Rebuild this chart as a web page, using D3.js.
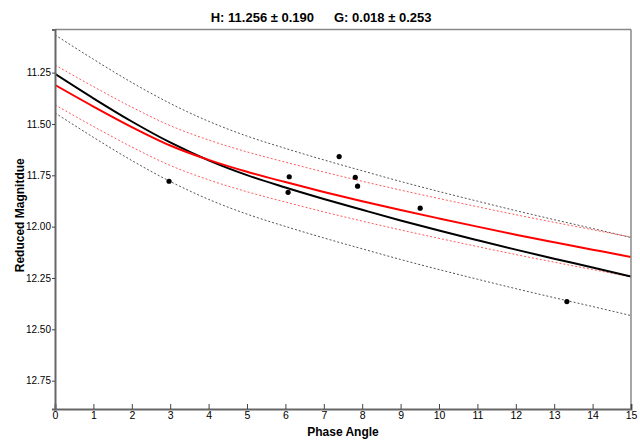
<!DOCTYPE html>
<html>
<head>
<meta charset="utf-8">
<script src="https://cdn.jsdelivr.net/npm/d3@7"></script>
<style>
html,body{margin:0;padding:0;background:#fff;}
svg{display:block;font-family:"Liberation Sans",Arial,sans-serif;}
</style>
</head>
<body>
<svg id="chart" width="640" height="442"></svg>
<script>
// ---- data ----
const titleH = "H: 11.256 \u00b1 0.190";
const titleG = "G: 0.018 \u00b1 0.253";
const xLabel = "Phase Angle";
const yLabel = "Reduced Magnitdue";

const phaseAngles = [0,1,2,3,4,5,6,7,8,9,10,11,12,13,14,15];
const fitBlack      = [11.256,11.375,11.488,11.590,11.677,11.749,11.809,11.865,11.918,11.970,12.019,12.066,12.112,12.156,12.199,12.243];
const fitBlackUpper = [11.066,11.185,11.298,11.400,11.487,11.559,11.619,11.675,11.728,11.780,11.829,11.876,11.922,11.966,12.009,12.053];
const fitBlackLower = [11.446,11.565,11.678,11.780,11.867,11.939,11.999,12.055,12.108,12.160,12.209,12.256,12.302,12.346,12.389,12.433];
const fitRed        = [11.310,11.415,11.515,11.605,11.675,11.733,11.783,11.831,11.876,11.919,11.960,12.000,12.039,12.076,12.112,12.148];
const fitRedUpper   = [11.213,11.318,11.418,11.508,11.578,11.636,11.686,11.734,11.779,11.822,11.863,11.903,11.942,11.979,12.015,12.051];
const fitRedLower   = [11.407,11.512,11.612,11.702,11.772,11.830,11.880,11.928,11.973,12.016,12.057,12.097,12.136,12.173,12.209,12.245];

const obsPhase = [2.97,6.07,6.10,7.40,7.82,7.88,9.51,13.33];
const obsMag   = [11.779,11.833,11.757,11.659,11.760,11.803,11.910,12.365];

const xTicks = [0,1,2,3,4,5,6,7,8,9,10,11,12,13,14,15];
const yTicks = [11.25,11.50,11.75,12.00,12.25,12.50,12.75];

// ---- layout ----
const L = 55, R = 631, T = 29.5, B = 409;
const svg = d3.select("#chart");
const x = d3.scaleLinear().domain([0,15]).range([L,R]);
const y = d3.scaleLinear().domain([11.04,12.888]).range([T,B]);

const line = arr => d3.line()
  .x((d,i)=>x(phaseAngles[i]))
  .y(d=>y(d))
  .curve(d3.curveMonotoneX)(arr);

svg.append("defs").append("clipPath").attr("id","clip")
  .append("rect").attr("x",L).attr("y",T).attr("width",R-L).attr("height",B-T);

const g = svg.append("g").attr("clip-path","url(#clip)");

// dashed bounds
[fitBlackUpper, fitBlackLower].forEach(a=>{
  g.append("path").attr("d",line(a)).attr("fill","none")
    .attr("stroke","#555").attr("stroke-width",1).attr("stroke-dasharray","2,2");
});
[fitRedUpper, fitRedLower].forEach(a=>{
  g.append("path").attr("d",line(a)).attr("fill","none")
    .attr("stroke","#ff5a5a").attr("stroke-width",1).attr("stroke-dasharray","2,2");
});
// solid fits
g.append("path").attr("d",line(fitBlack)).attr("fill","none")
  .attr("stroke","#000").attr("stroke-width",2);
g.append("path").attr("d",line(fitRed)).attr("fill","none")
  .attr("stroke","#ff0000").attr("stroke-width",2);

// points
g.selectAll("circle.obs").data(obsPhase).enter().append("circle")
  .attr("class","obs")
  .attr("cx",d=>x(d)).attr("cy",(d,i)=>y(obsMag[i])).attr("r",2.6).attr("fill","#000");

// frame
svg.append("line").attr("x1",L).attr("x2",R).attr("y1",T).attr("y2",T).attr("stroke","#888").attr("stroke-width",1.5);
svg.append("line").attr("x1",R).attr("x2",R).attr("y1",T).attr("y2",B).attr("stroke","#888").attr("stroke-width",1.5);

// axes
const xAxis = d3.axisBottom(x).tickValues(xTicks).tickSize(-5).tickPadding(3).tickFormat(d3.format("d"));
const gx = svg.append("g").attr("transform",`translate(0,${B})`).call(xAxis);
gx.select(".domain").attr("stroke","#666").attr("stroke-width",2);
gx.selectAll(".tick line").attr("stroke","#444");
gx.selectAll("text").attr("font-size",10.5).attr("fill","#000").attr("font-family","Liberation Sans, Arial, sans-serif");

const yAxis = d3.axisLeft(y).tickValues(yTicks).tickSize(3).tickPadding(1).tickFormat(d3.format(".2f"));
const gy = svg.append("g").attr("transform",`translate(${L},0)`).call(yAxis);
gy.select(".domain").attr("stroke","#666").attr("stroke-width",2);
gy.selectAll(".tick line").attr("stroke","#444");
gy.selectAll("text").attr("font-size",10).attr("fill","#000").attr("font-family","Liberation Sans, Arial, sans-serif");

// titles
svg.append("text").attr("x",314).attr("y",22).attr("text-anchor","end")
  .attr("font-size",13).attr("font-weight","bold").text(titleH);
svg.append("text").attr("x",334).attr("y",22).attr("text-anchor","start")
  .attr("font-size",13).attr("font-weight","bold").text(titleG);
svg.append("text").attr("x",(L+R)/2).attr("y",436).attr("text-anchor","middle")
  .attr("font-size",12).attr("font-weight","bold").text(xLabel);
svg.append("text").attr("transform",`translate(24,${(T+B)/2-4}) rotate(-90)`).attr("text-anchor","middle")
  .attr("font-size",12).attr("font-weight","bold").text(yLabel);
</script>
</body>
</html>
